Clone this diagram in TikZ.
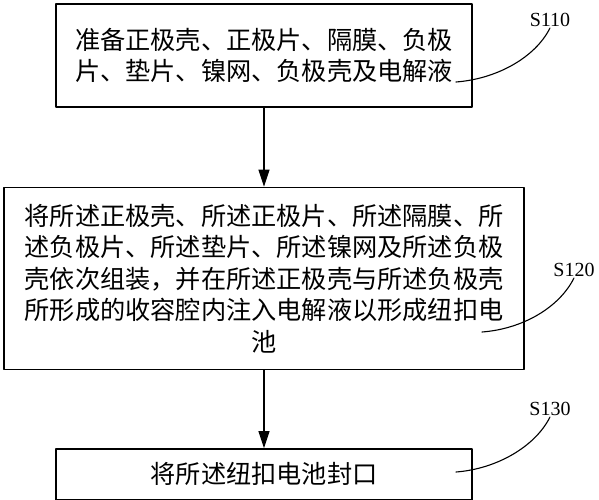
\documentclass[tikz,border=0pt]{standalone}
\usepackage{fontspec}
\setmainfont{Liberation Serif}
\newfontfamily\cjk{Noto Sans CJK SC}
\usetikzlibrary{positioning,arrows.meta}
\tikzset{
  stepbox/.style={draw,line width=1.4pt,align=center,inner xsep=0pt,inner ysep=0pt,
    font=\cjk\fontsize{25.2}{31.5}\selectfont},
  tag/.style={font=\fontsize{20}{20}\selectfont,inner sep=1pt,anchor=south},
  lead/.style={line width=1.1pt}
}
\begin{document}
\begin{tikzpicture}[line join=round,line cap=round,>={Triangle[length=17pt,width=11pt]}]
\useasboundingbox (0,0) rectangle (599pt,-500pt);
% steps
\node[stepbox,text width=384pt,minimum width=416pt,minimum height=103pt] (s1) at (264pt,-55.5pt)
  {准备正极壳、正极片、隔膜、负极\\片、垫片、镍网、负极壳及电解液};
\node[stepbox,text width=486pt,minimum width=520pt,minimum height=182pt,below=79pt of s1] (s2)
  {将所述正极壳、所述正极片、所述隔膜、所\\述负极片、所述垫片、所述镍网及所述负极\\壳依次组装，并在所述正极壳与所述负极壳\\所形成的收容腔内注入电解液以形成纽扣电\\池};
\node[stepbox,text width=384pt,minimum width=416pt,minimum height=51pt,below=78pt of s2] (s3)
  {将所述纽扣电池封口};
\draw[->,line width=1.1pt] (s1) -- (s2);
\draw[->,line width=1.1pt] (s2) -- (s3);
% step labels
\node[tag] (t1) at (550pt,-28pt) {S110};
\node[tag] (t2) at (574pt,-278pt) {S120};
\node[tag] (t3) at (550pt,-417pt) {S130};
\coordinate (c1) at (456pt,-82pt);
\coordinate (c2) at (482pt,-332pt);
\coordinate (c3) at (456pt,-472pt);
\foreach \i in {1,2,3}
  \draw[lead] (c\i) .. controls +(40pt,3pt) and +(-15pt,-30pt) .. (t\i.south);
\end{tikzpicture}
\end{document}
